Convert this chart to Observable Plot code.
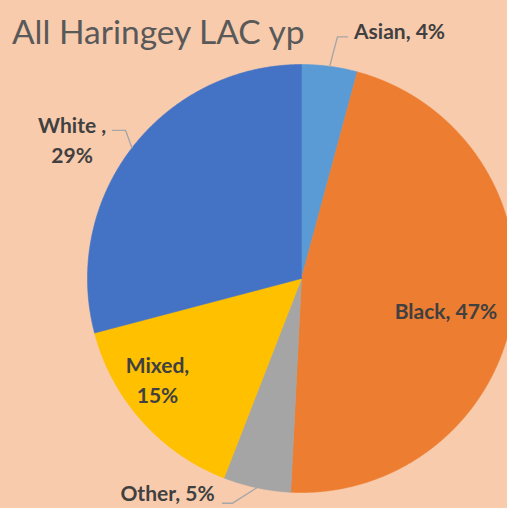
<!DOCTYPE html>
<html><head><meta charset="utf-8">
<script src="https://cdn.jsdelivr.net/npm/d3@7"></script>
<script src="https://cdn.jsdelivr.net/npm/@observablehq/plot@0.6"></script>
<style>
html,body{margin:0;padding:0;background:#F8CBAD;}
#chart{position:relative;width:507px;height:508px;overflow:hidden;background:#F8CBAD;}
#chart svg{position:absolute;left:0;top:0;}
#title{position:absolute;left:12px;top:15px;font-family:Lato;font-size:33.5px;line-height:1;color:#595959;white-space:nowrap;z-index:2;}
</style></head><body>
<div id="chart"><div id="title"></div></div>
<script>
const title = "All Haringey LAC yp";
const categories = ["Asian", "Black", "Other", "Mixed", "White"];
const shares = [4.2, 46.6, 5.1, 15.0, 29.1];
const percentLabels = ["4%", "47%", "5%", "15%", "29%"];
const labelSeparators = [", ", ", ", ", ", ",\n", " ,\n"];
const colors = ["#5B9BD5", "#ED7D31", "#A5A5A5", "#FFC000", "#4472C4"];

// label placement in unit-radius coordinates (annotation layout)
const labelPos = [[0.458, 1.164], [0.675, -0.145], [-0.626, -0.998], [-0.673, -0.467], [-1.072, 0.654]];
// leader lines: elbow and end point (null = no leader)
const leaderElbow = [[0.168, 1.129], null, [-0.322, -1.05], null, [-0.822, 0.692]];
const leaderEnd = [[0.215, 1.129], null, [-0.369, -1.05], null, [-0.883, 0.692]];

document.getElementById("title").textContent = title;

const arcs = d3.pie().sort(null).value(d => d)(shares);

const slicePts = [];
arcs.forEach((a, i) => {
  const cat = categories[i];
  slicePts.push({cat, x: 0, y: 0});
  const step = Math.PI / 720;
  for (let t = a.startAngle; t < a.endAngle; t += step) {
    slicePts.push({cat, x: Math.sin(t), y: Math.cos(t)});
  }
  slicePts.push({cat, x: Math.sin(a.endAngle), y: Math.cos(a.endAngle)});
  slicePts.push({cat, x: 0, y: 0});
});

const leaderPts = [];
arcs.forEach((a, i) => {
  if (!leaderElbow[i]) return;
  const mid = (a.startAngle + a.endAngle) / 2;
  const cat = categories[i];
  leaderPts.push({cat, x: Math.sin(mid), y: Math.cos(mid)});
  leaderPts.push({cat, x: leaderElbow[i][0], y: leaderElbow[i][1]});
  leaderPts.push({cat, x: leaderEnd[i][0], y: leaderEnd[i][1]});
});

const labels = categories.map((c, i) => ({
  text: c + labelSeparators[i] + percentLabels[i],
  x: labelPos[i][0], y: labelPos[i][1]
}));

const chart = Plot.plot({
  width: 507,
  height: 508,
  margin: 0,
  x: {domain: [-1, 1], range: [87, 515]},
  y: {domain: [-1, 1], range: [492, 64]},
  axis: null,
  color: {domain: categories, range: colors},
  style: {background: "transparent", overflow: "hidden"},
  marks: [
    Plot.line(slicePts, {x: "x", y: "y", z: "cat", fill: "cat", stroke: "cat", strokeWidth: 0.6, curve: "linear"}),
    Plot.line(leaderPts, {x: "x", y: "y", z: "cat", stroke: "#A6A6A6", strokeWidth: 1.4, curve: "linear"}),
    Plot.text(labels, {x: "x", y: "y", text: "text", fontFamily: "Lato", fontWeight: "bold", fontSize: 21, fill: "#404040", lineHeight: 1.4})
  ]
});
document.getElementById("chart").appendChild(chart);
</script>
</body></html>
